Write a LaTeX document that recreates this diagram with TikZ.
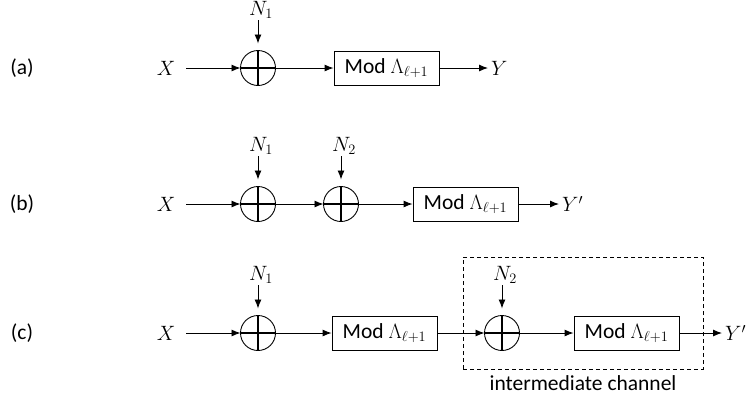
\documentclass[tikz,border=0pt]{standalone}
\usepackage{fontspec}
\setmainfont{Carlito}
\usetikzlibrary{arrows.meta}
\begin{document}
\begin{tikzpicture}[x=1pt,y=-1pt,
  every node/.style={font=\fontsize{21.5}{26}\selectfont},
  sumnode/.style={circle,draw,line width=0.9pt,minimum size=35pt,inner sep=0pt,outer sep=0pt},
  crossline/.style={line width=2pt},
  modbox/.style={draw,line width=0.9pt,minimum width=105pt,minimum height=34pt,inner sep=0pt},
  arr/.style={line width=0.9pt,-{Latex[length=9pt,width=7pt]}},
  noisearr/.style={arr,shorten >=7pt},
  xvar/.style={inner xsep=11pt,inner ysep=2pt},
  yvar/.style={anchor=west,inner xsep=3pt},
  nvar/.style={anchor=south,inner sep=1pt},
  dashbox/.style={draw,line width=0.9pt,dash pattern=on 4pt off 3pt,minimum width=240pt,minimum height=112pt,inner sep=0pt},
  rowlab/.style={}]
\useasboundingbox (0,0) rectangle (750,400);
% row (a)
\node[rowlab] (la) at (22,68) {(a)};
\node[xvar] (xa) at (166,68) {$X$};
\node[sumnode] (sa1) at (258,68) {};
\node[modbox] (ma) at (386.5,68) {Mod $\Lambda_{\ell+1}$};
\node[yvar] (ya) at (488,68) {$Y$};
\node[nvar] (na1) at (261,20) {$N_1$};
\draw[arr] (xa) -- (sa1);
\draw[arr] (sa1) -- (ma);
\draw[arr] (ma) -- (ya);
\draw[noisearr] (na1.south -| sa1.north) -- (sa1.north);
% row (b)
\node[rowlab] (lb) at (22,204) {(b)};
\node[xvar] (xb) at (166,204) {$X$};
\node[sumnode] (sb1) at (258,204) {};
\node[sumnode] (sb2) at (341,204) {};
\node[modbox] (mb) at (465.5,204) {Mod $\Lambda_{\ell+1}$};
\node[yvar] (yb) at (559,204) {$Y'$};
\node[nvar] (nb1) at (261,156) {$N_1$};
\node[nvar] (nb2) at (344,156) {$N_2$};
\draw[arr] (xb) -- (sb1);
\draw[arr] (sb1) -- (sb2);
\draw[arr] (sb2) -- (mb);
\draw[arr] (mb) -- (yb);
\draw[noisearr] (nb1.south -| sb1.north) -- (sb1.north);
\draw[noisearr] (nb2.south -| sb2.north) -- (sb2.north);
% row (c)
\node[dashbox] (ic) at (583,313) {};
\node (icl) at (583,383) {intermediate channel};
\node[rowlab] (lc) at (22,333) {(c)};
\node[xvar] (xc) at (166,333) {$X$};
\node[sumnode] (sc1) at (258,333) {};
\node[modbox] (mc1) at (384.5,333) {Mod $\Lambda_{\ell+1}$};
\node[sumnode] (sc2) at (502,333) {};
\node[modbox] (mc2) at (626.5,333) {Mod $\Lambda_{\ell+1}$};
\node[yvar] (yc) at (722,333) {$Y'$};
\node[nvar] (nc1) at (261,285) {$N_1$};
\node[nvar] (nc2) at (505,285) {$N_2$};
\draw[arr] (xc) -- (sc1);
\draw[arr] (sc1) -- (mc1);
\draw[arr] (mc1) -- (sc2);
\draw[arr] (sc2) -- (mc2);
\draw[arr] (mc2) -- (yc);
\draw[noisearr] (nc1.south -| sc1.north) -- (sc1.north);
\draw[noisearr] (nc2.south -| sc2.north) -- (sc2.north);
% crosses inside the adders
\foreach \s in {sa1,sb1,sb2,sc1,sc2}
  \draw[crossline] (\s.north) -- (\s.south) (\s.west) -- (\s.east);
\end{tikzpicture}
\end{document}
